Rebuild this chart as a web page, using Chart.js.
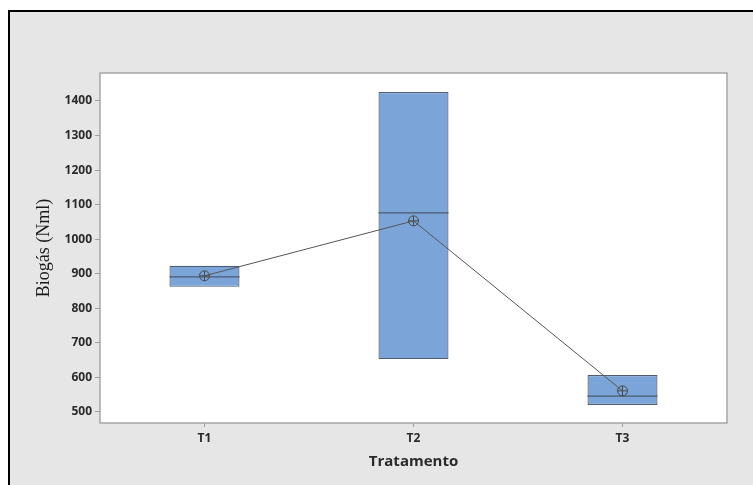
<!DOCTYPE html>
<html>
<head>
<meta charset="utf-8">
<script src="https://cdn.jsdelivr.net/npm/chart.js@4.4.0/dist/chart.umd.min.js"></script>
<style>
html,body{margin:0;padding:0;background:#ffffff;width:753px;height:485px;overflow:hidden;}
#panel{position:absolute;left:8px;top:10px;width:760px;height:490px;border-left:2px solid #000;border-top:2px solid #000;background:#e6e6e6;box-sizing:border-box;}
#wrap{position:absolute;left:0;top:0;width:753px;height:485px;}
</style>
</head>
<body>
<div id="panel"></div>
<div id="wrap"><canvas id="c" width="753" height="485"></canvas></div>
<script>
const categories = ['T1', 'T2', 'T3'];
const q1 = [862, 653, 520];
const q3 = [923, 1426, 607];
const medians = [891, 1076, 546];
const means = [894, 1053, 561];
const yTicks = [500, 600, 700, 800, 900, 1000, 1100, 1200, 1300, 1400];

const plotBg = {
  id: 'plotBg',
  beforeDraw(chart) {
    const {ctx, chartArea: a} = chart;
    ctx.save();
    ctx.fillStyle = '#ffffff';
    ctx.fillRect(a.left, a.top, a.right - a.left, a.bottom - a.top);
    ctx.restore();
  },
  afterDraw(chart) {
    const {ctx, chartArea: a} = chart;
    ctx.save();
    ctx.strokeStyle = '#a6a6a6';
    ctx.lineWidth = 1.5;
    ctx.strokeRect(a.left, a.top, a.right - a.left, a.bottom - a.top);
    ctx.restore();
  }
};

const medianLines = {
  id: 'medianLines',
  afterDatasetDraw(chart, args) {
    if (args.index !== 2) return;
    const meta = chart.getDatasetMeta(2);
    const y = chart.scales.y;
    const ctx = chart.ctx;
    ctx.save();
    ctx.strokeStyle = '#4a5a6e';
    ctx.lineWidth = 1.2;
    meta.data.forEach((bar, i) => {
      const py = y.getPixelForValue(medians[i]);
      ctx.beginPath();
      ctx.moveTo(bar.x - bar.width / 2, py);
      ctx.lineTo(bar.x + bar.width / 2, py);
      ctx.stroke();
    });
    ctx.restore();
  }
};

new Chart(document.getElementById('c'), {
  type: 'bar',
  data: {
    labels: categories,
    datasets: [
      {
        type: 'line',
        data: means,
        borderColor: '#555555',
        borderWidth: 1,
        pointStyle: 'circle',
        pointRadius: 5,
        pointBorderColor: '#4a4a4a',
        pointBackgroundColor: 'rgba(0,0,0,0)',
        pointBorderWidth: 1,
        fill: false,
        order: 0
      },
      {
        type: 'line',
        data: means,
        showLine: false,
        pointStyle: 'cross',
        pointRadius: 5,
        pointBorderColor: '#4a4a4a',
        pointBorderWidth: 1,
        order: 0
      },
      {
        type: 'bar',
        data: categories.map((c, i) => [q1[i], q3[i]]),
        backgroundColor: '#7ba4d9',
        borderColor: '#4f5d70',
        borderWidth: 1.2,
        borderSkipped: false,
        barPercentage: 0.335,
        categoryPercentage: 1,
        order: 1
      }
    ]
  },
  options: {
    responsive: false,
    animation: false,
    devicePixelRatio: 1,
    layout: {padding: {left: 30, top: 73, right: 26, bottom: 10}},
    plugins: {legend: {display: false}, tooltip: {enabled: false}},
    scales: {
      x: {
        type: 'category',
        offset: true,
        grid: {display: true, offset: false, drawOnChartArea: false, drawTicks: true, tickLength: 4, color: '#a0a0a0'},
        border: {display: false},
        ticks: {color: '#2a2a2a', font: {family: 'Open Sans', size: 12, weight: 'bold'}, padding: 4},
        title: {display: true, text: 'Tratamento', color: '#2a2a2a', font: {family: 'Open Sans', size: 15, weight: 'bold'}, padding: {top: 0, bottom: 4}},
        afterFit(s) { s.height = 52; }
      },
      y: {
        min: 468,
        max: 1481,
        afterBuildTicks(s) { s.ticks = yTicks.map(v => ({value: v})); },
        grid: {display: true, drawOnChartArea: false, drawTicks: true, tickLength: 5, color: '#a0a0a0'},
        border: {display: false},
        ticks: {color: '#2a2a2a', font: {family: 'Open Sans', size: 12, weight: 'bold'}, padding: 3, callback: (v) => String(v)},
        title: {display: true, text: 'Biogás (Nml)', color: '#1a1a1a', font: {family: 'Liberation Serif', size: 18}, padding: {top: 3, bottom: 0}},
        afterFit(s) { s.width = 70; }
      }
    }
  },
  plugins: [plotBg, medianLines]
});
</script>
</body>
</html>
